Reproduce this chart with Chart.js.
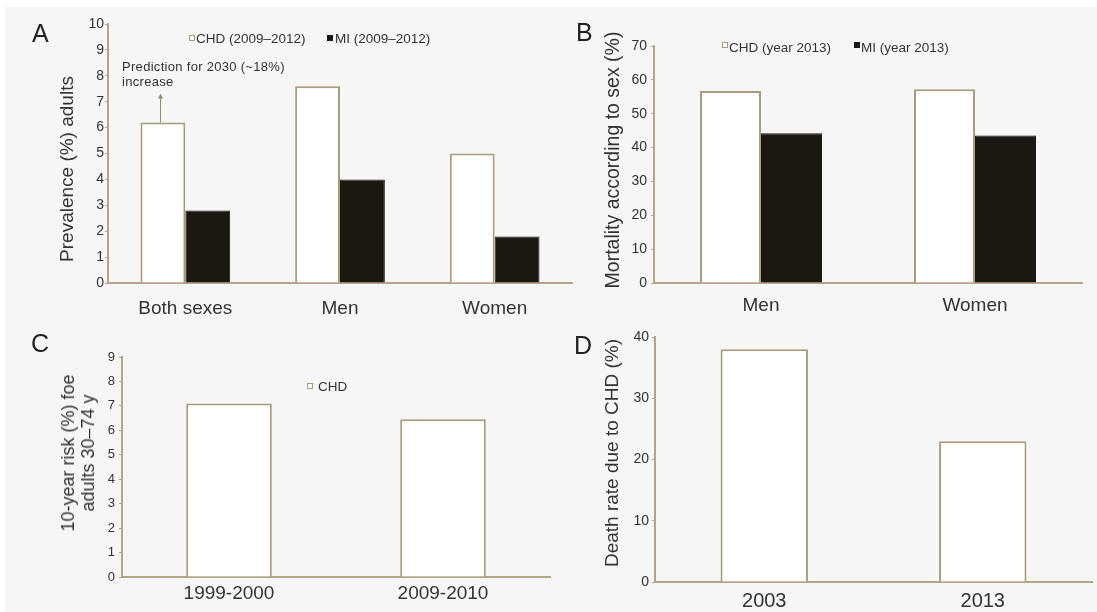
<!DOCTYPE html>
<html><head><meta charset="utf-8">
<script src="https://cdn.jsdelivr.net/npm/chart.js@4.4.0/dist/chart.umd.min.js"></script>
<style>
html,body{margin:0;padding:0;background:#fff;}
#page{position:relative;width:1097px;height:612px;overflow:hidden;background:#fff;font-family:"Liberation Sans",Arial,sans-serif;color:#333;}
#bg{position:absolute;left:5px;top:7px;right:0;bottom:0;background:#f6f6f6;}
.cv{position:absolute;}
.cv canvas{display:block;}
.t{position:absolute;white-space:nowrap;line-height:1;transform:translateY(-50%);}
.rt{position:absolute;white-space:nowrap;line-height:1;transform:translate(-50%,-50%) rotate(-90deg);text-align:center;}
.letter{font-size:25px;color:#222;}
.lg{font-size:13.5px;color:#333;}
.bx{position:absolute;box-sizing:border-box;width:6px;height:6px;}
.bw{background:#fff;border:1px solid #a99c7e;}
.bk{background:#1b1711;}
</style>
</head><body>
<div id="page">
<div id="bg"></div>
<div class="cv" style="left:0;top:0;width:580px;height:330px"><canvas id="cA" width="580" height="330"></canvas></div>
<div class="cv" style="left:560px;top:0;width:537px;height:330px"><canvas id="cB" width="537" height="330"></canvas></div>
<div class="cv" style="left:0;top:320px;width:580px;height:292px"><canvas id="cC" width="580" height="292"></canvas></div>
<div class="cv" style="left:560px;top:320px;width:537px;height:292px"><canvas id="cD" width="537" height="292"></canvas></div>

<div class="t letter" style="left:32px;top:32.5px">A</div>
<div class="t letter" style="left:576px;top:31.5px">B</div>
<div class="t letter" style="left:31px;top:343px">C</div>
<div class="t letter" style="left:574px;top:344.5px">D</div>

<div class="rt" style="left:66px;top:169px;font-size:19px">Prevalence (%) adults</div>
<div class="rt" style="left:613px;top:160px;font-size:19.5px">Mortality according to sex (%)</div>
<div class="rt" style="left:78px;top:453px;font-size:18px;line-height:20px">10-year risk (%) foe<br>adults 30–74 y</div>
<div class="rt" style="left:611px;top:453px;font-size:19px">Death rate due to CHD (%)</div>

<div class="bx bw" style="left:189px;top:35px"></div>
<div class="t lg" style="left:196px;top:39px">CHD (2009–2012)</div>
<div class="bx bk" style="left:327px;top:35px"></div>
<div class="t lg" style="left:335px;top:39px">MI (2009–2012)</div>

<div class="bx bw" style="left:722px;top:42px;width:6px;height:6px"></div>
<div class="t lg" style="left:729px;top:47.5px">CHD (year 2013)</div>
<div class="bx bk" style="left:854px;top:42px"></div>
<div class="t lg" style="left:861px;top:47.5px">MI (year 2013)</div>

<div class="bx bw" style="left:307px;top:383px"></div>
<div class="t lg" style="left:318px;top:387px">CHD</div>

<div class="t" style="left:122px;top:73.5px;font-size:13px;letter-spacing:0.3px;line-height:15px">Prediction for 2030 (~18%)<br>increase</div>
</div>

<script>
// ---- data ----
const catsA = ['Both sexes', 'Men', 'Women'];
const chdA = [6.2, 7.6, 5.0];
const miA = [2.8, 4.0, 1.8];
const predictionIncrease = 0.18;

const catsB = ['Men', 'Women'];
const chdB = [56.7, 57.2];
const miB = [44.2, 43.6];

const catsC = ['1999-2000', '2009-2010'];
const chdC = [7.1, 6.45];

const catsD = ['2003', '2013'];
const chdD = [38, 23];

// ---- styles ----
const TAN = '#b3a688';
const BAR_EDGE = '#a99c7e';
const BLACK = '#1b1711';
const TXT = '#333333';
const FONT = '"Liberation Sans", Arial, sans-serif';

Chart.defaults.font.family = FONT;
Chart.defaults.color = TXT;

function build(id, o) {
  const datasets = o.series.map(s => ({
    label: s.label,
    data: s.data,
    backgroundColor: s.fill,
    borderColor: s.edge,
    borderWidth: s.bw,
    categoryPercentage: o.catPct,
    barPercentage: 1
  }));
  return new Chart(document.getElementById(id), {
    type: 'bar',
    data: { labels: o.labels, datasets },
    options: {
      responsive: false,
      devicePixelRatio: 1,
      animation: false,
      layout: { padding: o.pad },
      plugins: { legend: { display: false }, tooltip: { enabled: false } },
      scales: {
        x: {
          offset: true,
          grid: { display: false, drawTicks: false },
          border: { display: true, color: TAN, width: 2 },
          ticks: { font: { size: o.xFont }, color: TXT, padding: o.xPad, maxRotation: 0, autoSkip: false },
          afterFit: s => { s.height = o.xH; }
        },
        y: {
          min: 0, max: o.yMax,
          grid: { display: true, drawOnChartArea: false, drawTicks: true, tickLength: 3, color: TAN, lineWidth: 1 },
          border: { display: true, color: TAN, width: 2 },
          ticks: { stepSize: o.step, font: { size: o.yFont }, color: TXT, padding: o.yPad },
          afterFit: s => { s.width = o.yW; }
        }
      }
    },
    plugins: o.plugins || []
  });
}

const arrowPlugin = {
  id: 'predArrow',
  afterDatasetsDraw(chart) {
    const bar = chart.getDatasetMeta(0).data[0];
    const ys = chart.scales.y;
    const v = chdA[0];
    const x = Math.round(bar.x - 3) + 0.5;
    const y0 = bar.y;
    const y1 = ys.getPixelForValue(v * (1 + predictionIncrease));
    const ctx = chart.ctx;
    ctx.save();
    ctx.strokeStyle = '#958a70';
    ctx.fillStyle = '#958a70';
    ctx.lineWidth = 1;
    ctx.beginPath();
    ctx.moveTo(x, y0);
    ctx.lineTo(x, y1 + 3);
    ctx.stroke();
    ctx.beginPath();
    ctx.moveTo(x, y1);
    ctx.lineTo(x - 2.5, y1 + 5);
    ctx.lineTo(x + 2.5, y1 + 5);
    ctx.closePath();
    ctx.fill();
    ctx.restore();
  }
};

build('cA', {
  labels: catsA,
  series: [
    { label: 'CHD (2009–2012)', data: chdA, fill: '#ffffff', edge: BAR_EDGE, bw: 2 },
    { label: 'MI (2009–2012)', data: miA, fill: BLACK, edge: BLACK, bw: 1 }
  ],
  catPct: 0.58, yMax: 10, step: 1,
  pad: { left: 0, right: 8, top: 24, bottom: 0 },
  yW: 108, xH: 47, xFont: 19, xPad: 14, yFont: 14, yPad: 1,
  plugins: [arrowPlugin]
});

build('cB', {
  labels: catsB,
  series: [
    { label: 'CHD (year 2013)', data: chdB, fill: '#ffffff', edge: BAR_EDGE, bw: 2 },
    { label: 'MI (year 2013)', data: miB, fill: BLACK, edge: BLACK, bw: 1 }
  ],
  catPct: 0.57, yMax: 70, step: 10,
  pad: { left: 0, right: 15, top: 46, bottom: 0 },
  yW: 94, xH: 47, xFont: 19, xPad: 11, yFont: 14, yPad: 4
});

build('cC', {
  labels: catsC,
  series: [
    { label: 'CHD', data: chdC, fill: '#ffffff', edge: BAR_EDGE, bw: 2 }
  ],
  catPct: 0.4, yMax: 9, step: 1,
  pad: { left: 0, right: 30, top: 37, bottom: 0 },
  yW: 122, xH: 35, xFont: 19, xPad: 5, yFont: 13, yPad: 4
});

build('cD', {
  labels: catsD,
  series: [
    { label: 'CHD', data: chdD, fill: '#ffffff', edge: BAR_EDGE, bw: 2 }
  ],
  catPct: 0.4, yMax: 40, step: 10,
  pad: { left: 0, right: 5, top: 17, bottom: 0 },
  yW: 95, xH: 30, xFont: 20, xPad: 7, yFont: 14, yPad: 3
});
</script>
</body></html>
